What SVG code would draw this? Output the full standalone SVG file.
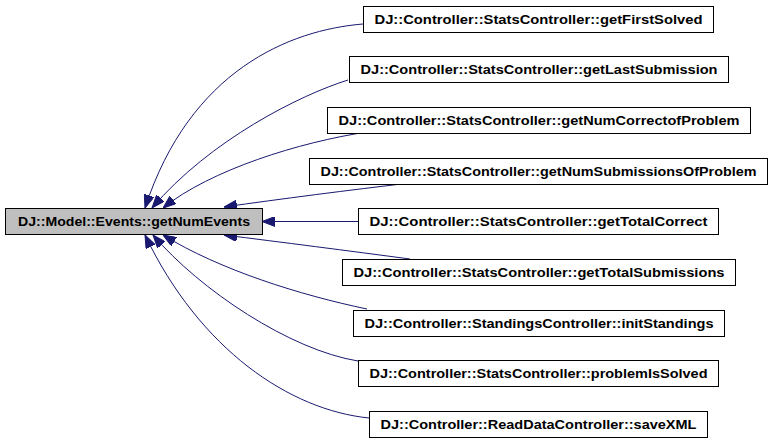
<svg xmlns="http://www.w3.org/2000/svg" width="773" height="443" viewBox="0 0 773 443">
<style>
.box{fill:#ffffff;stroke:#000000;stroke-width:1}
.main{fill:#bfbfbf;stroke:#000000;stroke-width:1}
.lbl{font-family:"Liberation Sans",Arial,sans-serif;font-size:12px;font-weight:bold;fill:#000000;text-anchor:middle}
.edge{fill:none;stroke:#191970;stroke-width:1;marker-end:url(#arr)}
</style>
<defs>
<marker id="arr" viewBox="0 0 13 10" refX="13" refY="5" markerWidth="13" markerHeight="10" markerUnits="userSpaceOnUse" orient="auto">
<path d="M0,0 L13,5 L0,10 z" fill="#191970" stroke="#191970"/>
</marker>
</defs>
<rect width="773" height="443" fill="#ffffff"/>
<g id="connectors">
<path class="edge" d="M363,24 C290,30 190,70 145,208"/>
<path class="edge" d="M348,80 C300,95 210,140 152,208"/>
<path class="edge" d="M367,132 C300,142 210,170 163,208"/>
<path class="edge" d="M410,183 C350,190 280,199 224,207"/>
<path class="edge" d="M358,221.5 L262,221.5"/>
<path class="edge" d="M410,259 C350,251 280,242 224,235"/>
<path class="edge" d="M367,309 C300,295 220,270 163,235"/>
<path class="edge" d="M358,361 C290,350 200,290 153,235"/>
<path class="edge" d="M369,418 C290,410 200,350 145,235"/>
</g>
<g id="n0"><rect class="main" x="5.5" y="208.5" width="257" height="26"/><text class="lbl" x="134" y="225.5" textLength="232" lengthAdjust="spacingAndGlyphs">DJ::Model::Events::getNumEvents</text></g>
<g id="n1"><rect class="box" x="363.5" y="6.5" width="350" height="26"/><text class="lbl" x="538.5" y="23.5" textLength="328" lengthAdjust="spacingAndGlyphs">DJ::Controller::StatsController::getFirstSolved</text></g>
<g id="n2"><rect class="box" x="349.5" y="56.5" width="379" height="26"/><text class="lbl" x="539" y="73.5" textLength="357" lengthAdjust="spacingAndGlyphs">DJ::Controller::StatsController::getLastSubmission</text></g>
<g id="n3"><rect class="box" x="327.5" y="107.5" width="423" height="26"/><text class="lbl" x="539" y="124.5" textLength="401" lengthAdjust="spacingAndGlyphs">DJ::Controller::StatsController::getNumCorrectofProblem</text></g>
<g id="n4"><rect class="box" x="309.5" y="158.5" width="458" height="26"/><text class="lbl" x="538.5" y="175.5" textLength="436" lengthAdjust="spacingAndGlyphs">DJ::Controller::StatsController::getNumSubmissionsOfProblem</text></g>
<g id="n5"><rect class="box" x="358.5" y="208.5" width="360" height="26"/><text class="lbl" x="538.5" y="225.5" textLength="338" lengthAdjust="spacingAndGlyphs">DJ::Controller::StatsController::getTotalCorrect</text></g>
<g id="n6"><rect class="box" x="342.5" y="259.5" width="393" height="26"/><text class="lbl" x="539" y="276.5" textLength="371" lengthAdjust="spacingAndGlyphs">DJ::Controller::StatsController::getTotalSubmissions</text></g>
<g id="n7"><rect class="box" x="353.5" y="310.5" width="371" height="26"/><text class="lbl" x="539" y="327.5" textLength="349" lengthAdjust="spacingAndGlyphs">DJ::Controller::StandingsController::initStandings</text></g>
<g id="n8"><rect class="box" x="358.5" y="360.5" width="360" height="26"/><text class="lbl" x="538.5" y="377.5" textLength="338" lengthAdjust="spacingAndGlyphs">DJ::Controller::StatsController::problemIsSolved</text></g>
<g id="n9"><rect class="box" x="369.5" y="411.5" width="338" height="26"/><text class="lbl" x="538.5" y="428.5" textLength="316" lengthAdjust="spacingAndGlyphs">DJ::Controller::ReadDataController::saveXML</text></g>
</svg>
